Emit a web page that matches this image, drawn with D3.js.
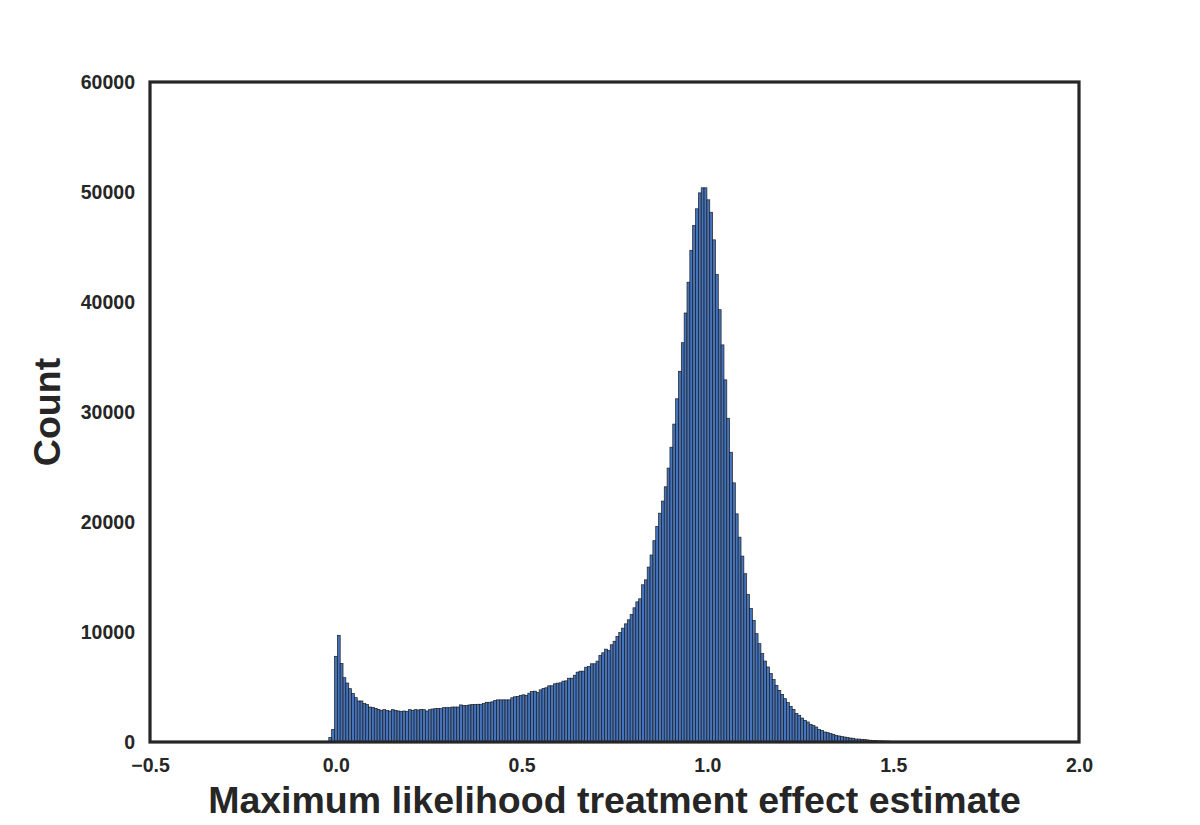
<!DOCTYPE html>
<html>
<head>
<meta charset="utf-8">
<script src="https://cdn.jsdelivr.net/npm/d3@7"></script>
<style>
  body { margin: 0; background: #fff; }
  text { font-family: "Liberation Sans", Arial, sans-serif; font-weight: bold; fill: #262626; }
</style>
</head>
<body>
<div id="chart"></div>
<script>
// histogram data
var binStart = -0.0188;
var binWidth = 0.00765;
var counts = [
  400, 1130, 7790, 9700, 7130, 5850, 5360, 4850, 4400, 4030,
  3730, 3730, 3490, 3400, 3180, 3130, 3060, 2970, 2880, 2940,
  2880, 2820, 2940, 2880, 2820, 2790, 2820, 2790, 2940, 2880,
  2940, 2910, 2970, 2940, 2820, 2940, 3000, 3030, 3060, 3030,
  3120, 3120, 3120, 3180, 3180, 3180, 3370, 3310, 3310, 3370,
  3400, 3400, 3430, 3430, 3490, 3610, 3610, 3650, 3770, 3830,
  3830, 3830, 3830, 3830, 4020, 4110, 4140, 4230, 4290, 4230,
  4440, 4590, 4620, 4500, 4740, 4860, 4930, 5110, 5110, 5290,
  5350, 5380, 5530, 5560, 5800, 5800, 6070, 6350, 6440, 6440,
  6800, 6860, 7110, 7110, 7350, 7860, 8110, 8440, 8320, 8840,
  9160, 9590, 9950, 10350, 10740, 11110, 11590, 12200, 12740, 13020,
  14290, 14740, 15900, 17000, 18300, 19600, 20800, 21900, 23200, 24900,
  26800, 28900, 31200, 33700, 36300, 39000, 41800, 44700, 46950, 48470,
  49920, 50380, 50380, 49290, 48160, 45650, 42500, 39300, 36100, 32920,
  29430, 26340, 23560, 20740, 18620, 16900, 15300, 13400, 12130, 11060,
  9850, 8940, 8040, 7360, 6820, 6220, 5670, 5150, 4700, 4330,
  3940, 3580, 3240, 2950, 2580, 2430, 2180, 1970, 1820, 1610,
  1490, 1360, 1150, 1060, 910, 850, 760, 700, 610, 550,
  490, 450, 400, 360, 340, 270, 270, 245, 220, 190,
  160, 130, 130, 100, 100, 90, 80, 70, 60, 50,
  45, 40, 35, 30, 25, 20, 18, 15, 12, 10
];
var xTicks = [-0.5, 0.0, 0.5, 1.0, 1.5, 2.0];
var yTicks = [0, 10000, 20000, 30000, 40000, 50000, 60000];

var width = 1200;
var height = 825;

// plot box (don't call it "top", window.top is taken)
var boxLeft = 150, boxRight = 1079, boxTop = 82, boxBottom = 742;

var svg = d3.select("#chart")
    .append("svg")
    .attr("width", width)
    .attr("height", height);

var xScale = d3.scaleLinear().domain([-0.5, 2.0]).range([boxLeft, boxRight]);
var yScale = d3.scaleLinear().domain([0, 60000]).range([boxBottom, boxTop]);

var bins = counts.map(function(c, i) {
    return { x0: binStart + i * binWidth, x1: binStart + (i + 1) * binWidth, n: c };
});

// bars
svg.append("g")
    .selectAll("rect")
    .data(bins)
    .enter()
    .append("rect")
    .attr("x", function(d) { return xScale(d.x0); })
    .attr("width", function(d) { return xScale(d.x1) - xScale(d.x0); })
    .attr("y", function(d) { return yScale(d.n); })
    .attr("height", function(d) { return boxBottom - yScale(d.n); })
    .attr("fill", "#4574be")
    .attr("stroke", "#1c1c1c")
    .attr("stroke-width", 0.7);

// axes, no tick marks
var xAxis = d3.axisBottom(xScale)
    .tickValues(xTicks)
    .tickSize(0)
    .tickPadding(16)
    .tickFormat(d3.format(".1f"));
var yAxis = d3.axisLeft(yScale)
    .tickValues(yTicks)
    .tickSize(0)
    .tickPadding(15)
    .tickFormat(d3.format("d"));

var gx = svg.append("g")
    .attr("transform", "translate(0," + boxBottom + ")")
    .call(xAxis);
var gy = svg.append("g")
    .attr("transform", "translate(" + boxLeft + ",0)")
    .call(yAxis);

[gx, gy].forEach(function(g) {
    g.select(".domain").remove();
    g.selectAll("text")
        .attr("fill", "#262626")
        .style("font-size", "19.5px")
        .style("font-family", "'Liberation Sans', Arial, sans-serif")
        .style("font-weight", "bold");
});

// frame
svg.append("rect")
    .attr("x", boxLeft)
    .attr("y", boxTop)
    .attr("width", boxRight - boxLeft)
    .attr("height", boxBottom - boxTop)
    .attr("fill", "none")
    .attr("stroke", "#262626")
    .attr("stroke-width", 3.2);

// axis titles
svg.append("text")
    .attr("x", (boxLeft + boxRight) / 2)
    .attr("y", 813)
    .attr("text-anchor", "middle")
    .style("font-size", "37.5px")
    .text("Maximum likelihood treatment effect estimate");

svg.append("text")
    .attr("transform", "translate(60," + (boxTop + boxBottom) / 2 + ") rotate(-90)")
    .attr("text-anchor", "middle")
    .style("font-size", "37.5px")
    .text("Count");
</script>
</body>
</html>
